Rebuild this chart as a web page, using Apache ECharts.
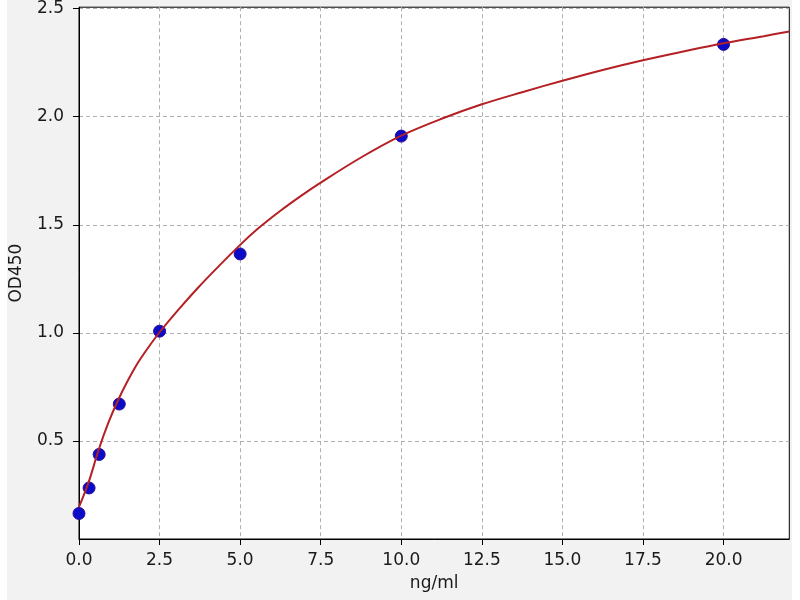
<!DOCTYPE html>
<html>
<head>
<meta charset="utf-8">
<script src="https://cdn.jsdelivr.net/npm/echarts@6/dist/echarts.min.js"></script>
<style>
  html, body { margin: 0; padding: 0; background: #ffffff; }
  #bg { position: absolute; left: 7px; top: 0; width: 785px; height: 600px; background: #f2f2f2; }
  #chart { position: absolute; left: 0; top: 0; width: 800px; height: 600px; }
</style>
</head>
<body>
<div id="bg"></div>
<div id="chart"></div>
<script>
// Standard points (concentration ng/ml vs OD450)
const pointX = [0, 0.3125, 0.625, 1.25, 2.5, 5, 10, 20];
const pointY = [0.165, 0.283, 0.438, 0.671, 1.008, 1.365, 1.91, 2.334];

// Fitted curve
const curveX = [0, 0.3, 0.6, 0.9, 1.2, 1.5, 1.8, 2.1, 2.5, 3.1, 3.7, 4.3, 5.0, 5.6, 6.25, 6.9, 7.5, 8.75, 10, 11.25, 12.5, 13.75, 15, 16.25, 17.5, 18.75, 20, 21.25, 22.04];
const curveY = [0.195, 0.31, 0.455, 0.58, 0.685, 0.775, 0.855, 0.922, 1.003, 1.11, 1.21, 1.303, 1.407, 1.488, 1.565, 1.635, 1.695, 1.811, 1.912, 1.99, 2.057, 2.113, 2.166, 2.216, 2.261, 2.301, 2.339, 2.372, 2.394];

// Tick values
const xTicks = [0, 2.5, 5, 7.5, 10, 12.5, 15, 17.5, 20];
const yTicks = [0.5, 1.0, 1.5, 2.0, 2.5];

const font = 'DejaVu Sans';
const textColor = '#1a1a1a';

const chart = echarts.init(document.getElementById('chart'), null, { renderer: 'canvas' });

chart.setOption({
  backgroundColor: 'transparent',
  animation: false,
  grid: {
    left: 78.7, right: 10.7, top: 6, bottom: 61,
    show: true, backgroundColor: '#ffffff', borderColor: '#000000', borderWidth: 1
  },
  xAxis: {
    type: 'value',
    min: 0, max: 22.04,
    name: 'ng/ml', nameLocation: 'middle', nameGap: 36,
    nameTextStyle: { fontFamily: font, fontSize: 17, color: textColor },
    axisLine: { show: true, onZero: false, lineStyle: { color: '#000', width: 1 } },
    axisTick: { show: true, inside: false, length: 6, customValues: xTicks, lineStyle: { color: '#000', width: 1 } },
    axisLabel: {
      fontFamily: font, fontSize: 17, color: textColor, margin: 13,
      customValues: xTicks,
      formatter: v => v.toFixed(1)
    },
    splitLine: { show: true, lineStyle: { color: '#b0b0b0', width: 1, type: [4, 3] } }
  },
  yAxis: {
    type: 'value',
    min: 0.047, max: 2.506,
    name: 'OD450', nameLocation: 'middle', nameGap: 54,
    nameTextStyle: { fontFamily: font, fontSize: 17, color: textColor },
    axisLine: { show: true, onZero: false, lineStyle: { color: '#000', width: 1 } },
    axisTick: { show: true, inside: false, length: 6, customValues: yTicks, lineStyle: { color: '#000', width: 1 } },
    axisLabel: {
      fontFamily: font, fontSize: 17, color: textColor, margin: 15,
      customValues: yTicks,
      formatter: v => v.toFixed(1)
    },
    splitLine: { show: true, lineStyle: { color: '#b0b0b0', width: 1, type: [4, 3] } }
  },
  series: [
    {
      type: 'scatter',
      data: pointX.map((x, i) => [x, pointY[i]]),
      symbol: 'circle', symbolSize: 12,
      itemStyle: { color: '#0c0cc8', borderColor: '#2a0c9a', borderWidth: 1, opacity: 1 },
      z: 2, clip: false
    },
    {
      type: 'line',
      data: curveX.map((x, i) => [x, curveY[i]]),
      smooth: 0.35,
      showSymbol: false, symbol: 'none',
      lineStyle: { color: '#b52025', width: 2 },
      z: 3
    }
  ]
});
</script>
</body>
</html>
